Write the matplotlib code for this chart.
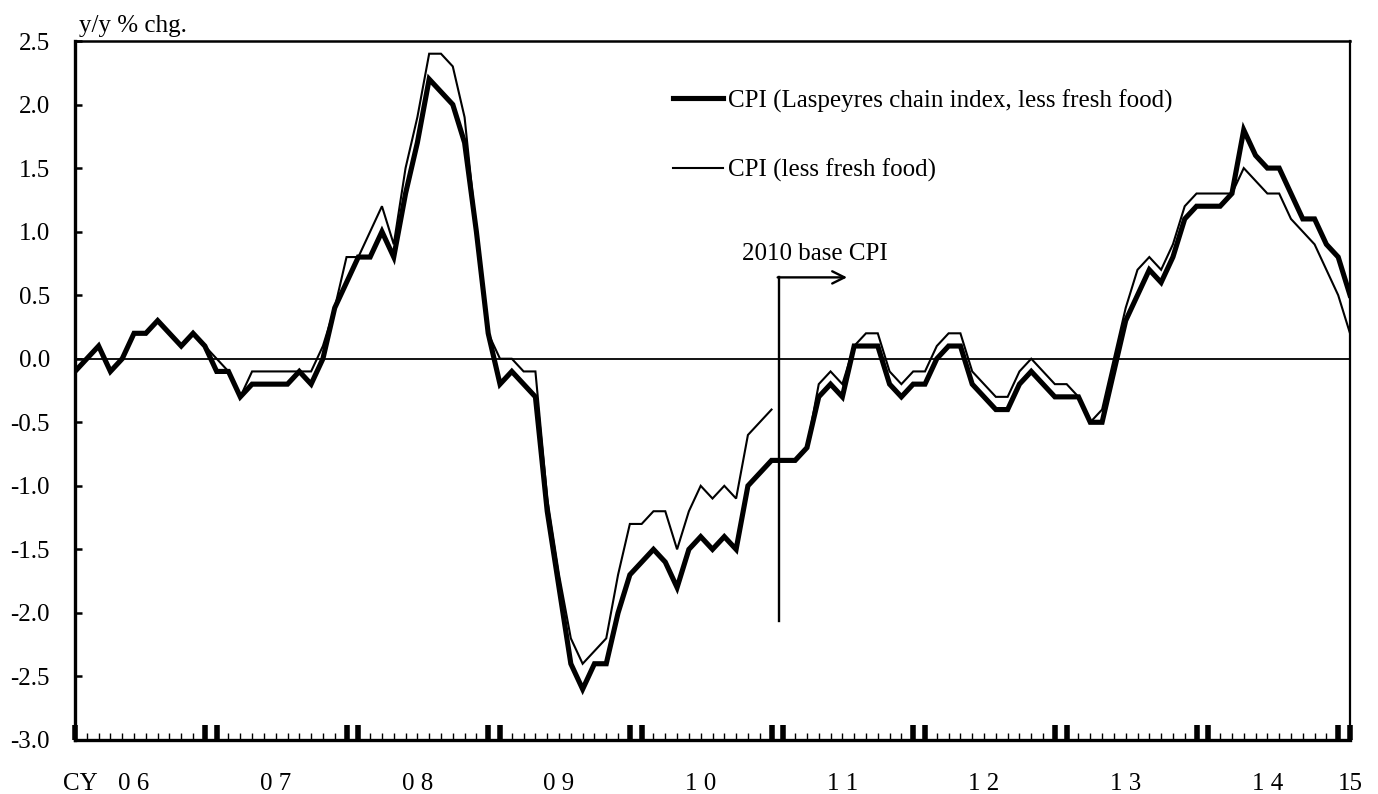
import matplotlib
matplotlib.use("Agg")
import matplotlib.pyplot as plt
import numpy as np

plt.rcParams['font.family'] = ['Liberation Serif', 'DejaVu Serif']

# Monthly y/y % change, Jan 2006 - Jan 2015
laspeyres_chain = [
    -0.1, 0.0, 0.1, -0.1, 0.0, 0.2, 0.2, 0.3, 0.2, 0.1, 0.2, 0.1,        # 2006
    -0.1, -0.1, -0.3, -0.2, -0.2, -0.2, -0.2, -0.1, -0.2, 0.0, 0.4, 0.6,  # 2007
    0.8, 0.8, 1.0, 0.8, 1.3, 1.7, 2.2, 2.1, 2.0, 1.7, 1.0, 0.2,           # 2008
    -0.2, -0.1, -0.2, -0.3, -1.2, -1.8, -2.4, -2.6, -2.4, -2.4, -2.0, -1.7,  # 2009
    -1.6, -1.5, -1.6, -1.8, -1.5, -1.4, -1.5, -1.4, -1.5, -1.0, -0.9, -0.8,  # 2010
    -0.8, -0.8, -0.7, -0.3, -0.2, -0.3, 0.1, 0.1, 0.1, -0.2, -0.3, -0.2,  # 2011
    -0.2, 0.0, 0.1, 0.1, -0.2, -0.3, -0.4, -0.4, -0.2, -0.1, -0.2, -0.3,  # 2012
    -0.3, -0.3, -0.5, -0.5, -0.1, 0.3, 0.5, 0.7, 0.6, 0.8, 1.1, 1.2,      # 2013
    1.2, 1.2, 1.3, 1.8, 1.6, 1.5, 1.5, 1.3, 1.1, 1.1, 0.9, 0.8,           # 2014
    0.5,                                                                  # 2015
]

# CPI less fresh food, 2005 base (Jan 2006 - Dec 2010)
cpi_2005_base = [
    -0.1, 0.0, 0.1, -0.1, 0.0, 0.2, 0.2, 0.3, 0.2, 0.1, 0.2, 0.1,
    0.0, -0.1, -0.3, -0.1, -0.1, -0.1, -0.1, -0.1, -0.1, 0.1, 0.4, 0.8,
    0.8, 1.0, 1.2, 0.9, 1.5, 1.9, 2.4, 2.4, 2.3, 1.9, 1.0, 0.2,
    0.0, 0.0, -0.1, -0.1, -1.1, -1.7, -2.2, -2.4, -2.3, -2.2, -1.7, -1.3,
    -1.3, -1.2, -1.2, -1.5, -1.2, -1.0, -1.1, -1.0, -1.1, -0.6, -0.5, -0.4,
]

# CPI less fresh food, 2010 base (Jan 2011 - Jan 2015)
cpi_2010_base = [
    -0.8, -0.8, -0.7, -0.2, -0.1, -0.2, 0.1, 0.2, 0.2, -0.1, -0.2, -0.1,
    -0.1, 0.1, 0.2, 0.2, -0.1, -0.2, -0.3, -0.3, -0.1, 0.0, -0.1, -0.2,
    -0.2, -0.3, -0.5, -0.4, 0.0, 0.4, 0.7, 0.8, 0.7, 0.9, 1.2, 1.3,
    1.3, 1.3, 1.3, 1.5, 1.4, 1.3, 1.3, 1.1, 1.0, 0.9, 0.7, 0.5,
    0.2,
]

year_labels = ["0 6", "0 7", "0 8", "0 9", "1 0", "1 1", "1 2", "1 3", "1 4", "15"]
y_ticks = [2.5, 2.0, 1.5, 1.0, 0.5, 0.0, -0.5, -1.0, -1.5, -2.0, -2.5, -3.0]

n = len(laspeyres_chain)
months = np.arange(n)
m2005 = np.arange(len(cpi_2005_base))
m2010 = np.arange(len(cpi_2005_base), len(cpi_2005_base) + len(cpi_2010_base))

fig = plt.figure(figsize=(13.78, 7.94), dpi=100)
ax = fig.add_axes([75 / 1378, 54 / 794, 1275 / 1378, 699 / 794])

ax.axhline(0, color='black', lw=1.3, zorder=1)

thin_kw = dict(color='black', lw=1.5, solid_joinstyle='miter', zorder=2)
ax.plot(m2005, cpi_2005_base, **thin_kw)
ax.plot(m2010, cpi_2010_base, **thin_kw)
ax.plot(months, laspeyres_chain, color='black', lw=3.7,
        solid_joinstyle='miter', zorder=3)

ax.set_xlim(0, n - 1)
ax.set_ylim(-3.0, 2.5)

# y axis
ax.set_yticks(y_ticks)
ax.set_yticklabels([f"{v:.1f}" for v in y_ticks], fontsize=18)
ax.tick_params(axis='y', direction='in', length=5, width=1.8, pad=18,
               left=True, right=False)

# x axis: monthly minor ticks, heavy ticks at each year boundary
major = [0]
for k in range(1, 10):
    major += [12 * k - 1, 12 * k]
major = [m for m in major if m < n]
ax.set_xticks(major)
ax.set_xticklabels([])
ax.set_xticks(months, minor=True)
ax.tick_params(axis='x', which='major', direction='in', length=11, width=4,
               bottom=True, top=False)
ax.tick_params(axis='x', which='minor', direction='in', length=5, width=1.0,
               bottom=True, top=False)

xt = ax.get_xaxis_transform()
label_pos = [12 * k + 5 for k in range(9)] + [n - 1]
for pos, lab in zip(label_pos, year_labels):
    ax.text(pos, -0.0715, lab, transform=xt, ha='center', va='baseline',
            fontsize=18)
ax.text(-0.0094, -0.0715, "CY", transform=ax.transAxes, ha='left',
        va='baseline', fontsize=18)

ax.text(0.003, 1.006, "y/y % chg.", transform=ax.transAxes, ha='left',
        va='bottom', fontsize=18)

for side, w in [('left', 2.4), ('bottom', 2.4), ('top', 1.8), ('right', 1.6)]:
    ax.spines[side].set_linewidth(w)
    ax.spines[side].set_color('black')

# switch to the 2010 base
switch_x = 59.6
ax.plot([switch_x, switch_x], [-2.06, 0.64], color='black', lw=1.7, zorder=4)
ax.annotate("", xy=(65.4, 0.64), xytext=(switch_x - 0.08, 0.64),
            arrowprops=dict(arrowstyle='->', color='black', lw=1.7,
                            mutation_scale=22, shrinkA=0, shrinkB=0))
ax.text(62.7, 0.78, "2010 base CPI", ha='center', va='baseline', fontsize=18)

h1, = ax.plot([], [], color='black', lw=3.7)
h2, = ax.plot([], [], color='black', lw=1.5)
ax.legend([h1, h2],
          ["CPI (Laspeyres chain index, less fresh food)", "CPI (less fresh food)"],
          loc='upper left', bbox_to_anchor=(0.469, 0.931), frameon=False,
          fontsize=18, handlelength=2.0, handletextpad=0.2, labelspacing=1.84,
          borderpad=0, borderaxespad=0)

fig.savefig("out.png", dpi=100)
